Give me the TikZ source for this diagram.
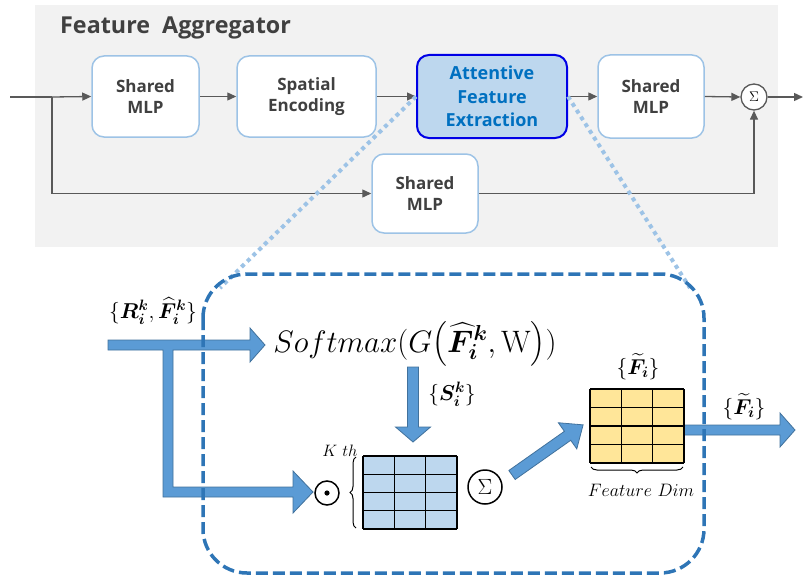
\RequirePackage{fix-cm}
\documentclass[tikz,border=0pt]{standalone}
\usepackage{amsmath,bm}
\usepackage{fontspec}
\newfontfamily\osans{Open Sans}
\usetikzlibrary{arrows.meta,decorations.pathreplacing}
\definecolor{panel}{HTML}{F2F2F2}
\definecolor{boxborder}{HTML}{9DC3E6}
\definecolor{afefill}{HTML}{BDD7EE}
\definecolor{afeborder}{HTML}{0000E6}
\definecolor{afetext}{HTML}{0070C0}
\definecolor{textgray}{HTML}{404040}
\definecolor{linegray}{HTML}{595959}
\definecolor{bigarrow}{HTML}{5B9BD5}
\definecolor{bigarrowborder}{HTML}{41719C}
\definecolor{dashblue}{HTML}{2E75B6}
\definecolor{gridyellow}{HTML}{FFE699}
\tikzset{
  mlpbox/.style={draw=boxborder, line width=1.5pt, fill=white, rounded corners=12pt,
    align=center, inner sep=0pt, text=textgray,
    font=\osans\bfseries\fontsize{17}{20.5}\selectfont},
  afebox/.style={draw=afeborder, line width=2pt, fill=afefill, rounded corners=12pt,
    align=center, inner sep=0pt, text=afetext,
    font=\osans\bfseries\fontsize{18}{23.5}\selectfont},
  conn/.style={draw=linegray, line width=1.3pt, -{Triangle[length=9pt,width=8pt]}},
  connplain/.style={draw=linegray, line width=1.3pt},
  fatarrow/.style={fill=bigarrow, draw=bigarrowborder, line width=0.8pt, line join=miter},
  dotline/.style={draw=boxborder, line width=4pt, dash pattern=on 4pt off 4pt},
  mathlbl/.style={inner sep=0pt, font=\fontsize{21.5}{25}\selectfont},
  gridline/.style={draw=black, line width=1.4pt},
}
\begin{document}
\begin{tikzpicture}[x=1pt,y=-1pt]
\useasboundingbox (0,0) rectangle (803,578);
% panel
\fill[panel] (35,5) rectangle (778,247);
\node[anchor=base west, inner sep=0pt, text=textgray, font=\osans\bfseries\fontsize{23.3}{27}\selectfont] (title) at (60,34) {Feature\ \ Aggregator};

% boxes
\node[mlpbox, minimum width=107pt, minimum height=81pt] (mlp1) at (145.5,96.5) {Shared\\MLP};
\node[mlpbox, minimum width=139pt, minimum height=81pt] (spe) at (306.5,96.5) {Spatial\\Encoding};
\node[afebox, minimum width=150pt, minimum height=83pt] (afe) at (492,96.5) {Attentive\\Feature\\Extraction};
\node[mlpbox, minimum width=106pt, minimum height=83pt] (mlp2) at (651,96.5) {Shared\\MLP};
\node[mlpbox, minimum width=106pt, minimum height=79pt] (mlp3) at (425,193.5) {Shared\\MLP};
\node[draw=linegray, line width=1.3pt, fill=white, circle, minimum size=26pt, inner sep=0pt, font=\fontsize{14}{14}\selectfont] (sum1) at (754,97) {$\Sigma$};

\coordinate (in) at (10,97);
\coordinate (br) at (52,97);
\coordinate (brd) at (52,193.5);
\coordinate (rd) at (754,193.5);
\coordinate (out) at (803,97);

\draw[connplain] (in) -- (br);
\draw[conn] (br) -- (mlp1.west);
\draw[conn] (br) -- (brd) -- (mlp3.west);
\draw[conn] (mlp1.east) -- (spe.west);
\draw[conn] (spe.east) -- (afe.west);
\draw[conn] (afe.east) -- (mlp2.west);
\draw[conn] (mlp2.east) -- (sum1.west);
\draw[conn] (mlp3.east) -- (rd) -- (sum1.south);
\draw[conn] (sum1.east) -- (out);

% dotted zoom lines
\coordinate (dl) at (220,288);
\coordinate (dr) at (690,288);
\draw[dotline] (afe.west) -- (dl);
\draw[dotline] (afe.east) -- (dr);

% lower part: big arrows
\filldraw[fatarrow] (108,340) -- (250,340) -- (250,328) -- (265,345) -- (250,362) -- (250,350)
  -- (173,350) -- (173,487) -- (293,487) -- (293,471) -- (313,492) -- (293,513) -- (293,497)
  -- (163,497) -- (163,350) -- (108,350) -- cycle;
\filldraw[fatarrow] (407.5,367) -- (418.5,367) -- (418.5,427) -- (430.5,427) -- (413,442)
  -- (395.5,427) -- (407.5,427) -- cycle;
\filldraw[fatarrow] (684,425) -- (780,425) -- (780,413) -- (795,430) -- (780,447) -- (780,435)
  -- (684,435) -- cycle;
\begin{scope}[shift={(512,475)}, rotate=35.2]
\filldraw[fatarrow] (0,-5.5) -- (68,-5.5) -- (68,-16) -- (87,0) -- (68,16) -- (68,5.5) -- (0,5.5) -- cycle;
\end{scope}

% labels
\node[mathlbl] (rf) at (153,311) {$\{\bm{R}_{\bm i}^{\bm k}, \widehat{\bm F}_{\bm i}^{\bm k}\}$};
\node[inner sep=0pt, anchor=base, font=\fontsize{31}{36}\selectfont] (soft) at (415,352)
  {$Softmax(G\bigl(\widehat{\bm F}_{\bm i}^{\bm k}, \mathrm{W}\bigr))$};
\node[mathlbl] (sl) at (452,394) {$\{\bm{S}_{\bm i}^{\bm k}\}$};
\node[inner sep=0pt, font=\fontsize{16.5}{19}\selectfont] (kth) at (340,451) {$K\ th$};
\node[mathlbl] (ft1) at (638,367) {$\{\widetilde{\bm F}_{\bm i}\}$};
\node[mathlbl] (ft2) at (744,407) {$\{\widetilde{\bm F}_{\bm i}\}$};
\node[inner sep=0pt, font=\fontsize{18}{21}\selectfont] (fdim) at (641,490) {$Feature\ Dim$};

% odot
\node[draw=black, line width=1.5pt, circle, minimum size=24pt, inner sep=0pt] (odot) at (327,493) {};
\fill (odot.center) circle (2.6pt);
% sigma circle
\node[draw=black, line width=1.5pt, circle, minimum size=34pt, inner sep=0pt, font=\fontsize{22}{22}\selectfont] (sum2) at (485,487) {$\Sigma$};

% blue grid
\fill[afefill] (363,456) rectangle (457,529);
\foreach \xx in {363,394.3,425.7,457} \draw[gridline] (\xx,456) -- (\xx,529);
\foreach \yy in {456,474.25,492.5,510.75,529} \draw[gridline] (363,\yy) -- (457,\yy);
\draw[decorate, decoration={brace, amplitude=6pt}, line width=1pt] (356,528) -- (356,457);

% yellow grid
\fill[gridyellow] (590,389) rectangle (684,463);
\foreach \xx in {590,621.3,652.7,684} \draw[gridline] (\xx,389) -- (\xx,463);
\foreach \yy in {389,407.5,426,444.5,463} \draw[gridline] (590,\yy) -- (684,\yy);
\draw[decorate, decoration={brace, amplitude=6pt}, line width=1pt] (683,467) -- (591,467);

% dashed frame
\draw[draw=dashblue, line width=3.5pt, dash pattern=on 12pt off 5pt, rounded corners=44pt] (203,274) rectangle (704,573);
\end{tikzpicture}
\end{document}
